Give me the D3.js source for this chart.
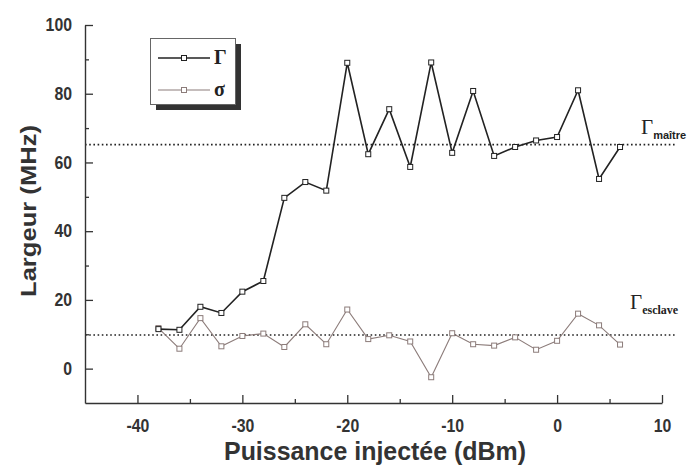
<!DOCTYPE html>
<html><head><meta charset="utf-8">
<script src="https://cdn.jsdelivr.net/npm/d3@7"></script>
<style>
body{margin:0;background:#fff;}
svg{display:block;}
</style></head>
<body>
<svg id="chart" width="687" height="467"></svg>
<script>
const xValues = [-38,-36,-34,-32,-30,-28,-26,-24,-22,-20,-18,-16,-14,-12,-10,-8,-6,-4,-2,0,2,4,6];
const gammaValues = [11.5,11.3,18.0,16.2,22.4,25.5,49.7,54.3,51.8,89.0,62.4,75.5,58.7,89.1,62.8,80.8,61.9,64.5,66.4,67.4,81.0,55.2,64.5];
const sigmaValues = [11.8,5.8,14.7,6.5,9.5,10.2,6.3,12.9,7.1,17.2,8.6,9.7,7.9,-2.5,10.3,7.1,6.7,9.1,5.5,8.1,16.0,12.6,7.0];
const xTicks = [-40,-30,-20,-10,0,10];
const xMinorTicks = [-35,-25,-15,-5,5];
const yTicks = [0,20,40,60,80,100];
const yMinorTicks = [10,30,50,70,90];
const refLevels = [65.2, 9.8];
const refNames = ["maître","esclave"];
const seriesNames = ["Γ","σ"];

const svg = d3.select("#chart");
const x = d3.scaleLinear().domain([-45,10]).range([85,662]);
const y = d3.scaleLinear().domain([-10,100]).range([403,25]);
const axisColor = "#333";
const gColor = "#222";
const sColor = "#8c7c7a";
const sans = "'Liberation Sans', Arial, sans-serif";
const serif = "'Liberation Serif', 'Times New Roman', serif";

// reference dotted lines
svg.selectAll("line.ref").data(refLevels).enter().append("line")
  .attr("class","ref")
  .attr("x1",x(-45)).attr("x2",675)
  .attr("y1",d=>y(d)).attr("y2",d=>y(d))
  .attr("stroke","#222").attr("stroke-width",1.6)
  .attr("stroke-dasharray","1.6,2.6");

// axes
const fmt = d => String(d);
svg.append("g").attr("class","xa").attr("transform",`translate(0,${y(-10)})`)
  .call(d3.axisBottom(x).tickValues(xTicks).tickSizeInner(-8).tickSizeOuter(0).tickPadding(13).tickFormat(fmt));
const xAxisMinor = svg.append("g").attr("transform",`translate(0,${y(-10)})`)
  .call(d3.axisBottom(x).tickValues(xMinorTicks).tickSizeInner(-4).tickSizeOuter(0).tickFormat(""));
xAxisMinor.select(".domain").remove();
svg.append("g").attr("class","ya").attr("transform",`translate(${x(-45)},0)`)
  .call(d3.axisLeft(y).tickValues(yTicks).tickSizeInner(-8).tickSizeOuter(0).tickPadding(13).tickFormat(fmt));
const yAxisMinor = svg.append("g").attr("transform",`translate(${x(-45)},0)`)
  .call(d3.axisLeft(y).tickValues(yMinorTicks).tickSizeInner(-4).tickSizeOuter(0).tickFormat(""));
yAxisMinor.select(".domain").remove();

svg.selectAll(".domain").attr("stroke",axisColor).attr("stroke-width",1.4);
svg.selectAll(".tick line").attr("stroke",axisColor).attr("stroke-width",1.3);
svg.selectAll(".tick text").attr("fill","#333")
  .style("font-family",sans)
  .style("font-weight","bold").style("font-size","18px")
  .attr("transform","scale(0.88,1)");
svg.selectAll(".xa .tick text").attr("dy","0.9em");
svg.selectAll(".ya .tick text").attr("x",-13/0.88);

// axis titles
svg.append("text").attr("x",375).attr("y",460).attr("text-anchor","middle")
  .style("font-family",sans).style("font-weight","bold")
  .style("font-size","25px").attr("fill","#333")
  .attr("textLength",302).attr("lengthAdjust","spacingAndGlyphs")
  .text("Puissance injectée (dBm)");
svg.append("text").attr("transform","translate(36,211) rotate(-90)").attr("text-anchor","middle")
  .style("font-family",sans).style("font-weight","bold")
  .style("font-size","22px").attr("fill","#333")
  .attr("textLength",172).attr("lengthAdjust","spacingAndGlyphs")
  .text("Largeur (MHz)");

// series
function drawSeries(vals,color,width){
  const data = xValues.map((v,i)=>[v,vals[i]]);
  svg.append("path").datum(data)
    .attr("fill","none").attr("stroke",color).attr("stroke-width",width)
    .attr("d",d3.line().x(d=>x(d[0])).y(d=>y(d[1])));
  svg.append("g").selectAll("rect").data(data).enter().append("rect")
    .attr("x",d=>x(d[0])-2.5).attr("y",d=>y(d[1])-2.5)
    .attr("width",5).attr("height",5)
    .attr("fill","#fff").attr("stroke",color).attr("stroke-width",1);
}
drawSeries(sigmaValues,sColor,1.1);
drawSeries(gammaValues,gColor,1.6);

// reference labels
const refLabelPos = [[641,134],[630,309]];
refLevels.forEach((lv,i)=>{
  const t = svg.append("text").attr("x",refLabelPos[i][0]).attr("y",refLabelPos[i][1])
    .attr("fill","#222");
  t.append("tspan").text("Γ").style("font-family",serif)
    .style("font-size","21px");
  t.append("tspan").attr("dy",5).text(refNames[i])
    .style("font-family", i===0 ? sans : serif)
    .style("font-weight","bold").style("font-size", i===0 ? "11px" : "12px");
});

// legend
const lg = svg.append("g");
lg.append("rect").attr("x",156).attr("y",44).attr("width",85).attr("height",66).attr("fill","#333");
lg.append("rect").attr("x",150.5).attr("y",38.5).attr("width",85).attr("height",66)
  .attr("fill","#fff").attr("stroke","#666").attr("stroke-width",1);
const legRows = [[seriesNames[0],gColor,1.6,58],[seriesNames[1],sColor,1.1,90]];
legRows.forEach(r=>{
  lg.append("line").attr("x1",158).attr("x2",210).attr("y1",r[3]).attr("y2",r[3])
    .attr("stroke",r[1]).attr("stroke-width",r[2]);
  lg.append("rect").attr("x",181.5).attr("y",r[3]-2.5).attr("width",5).attr("height",5)
    .attr("fill","#fff").attr("stroke",r[1]).attr("stroke-width",1);
  lg.append("text").attr("x",214).attr("y",r[3]+6).text(r[0])
    .style("font-family",serif)
    .style("font-weight","bold").style("font-size","20px").attr("fill","#222");
});
</script>
</body></html>
